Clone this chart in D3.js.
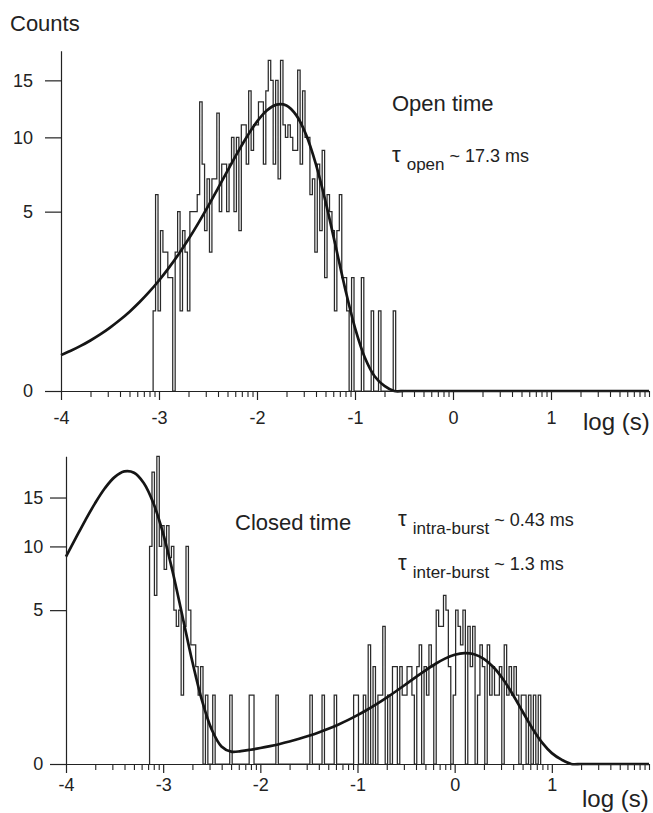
<!DOCTYPE html>
<html><head><meta charset="utf-8">
<script src="https://cdn.jsdelivr.net/npm/d3@7"></script>
<style>
body{margin:0;background:#fff}
svg{display:block}
text{font-family:"Liberation Sans",Arial,Helvetica,sans-serif;fill:#222}
</style>
</head><body>
<svg id="chart" width="653" height="813"></svg>
<script>
// ---------- data ----------
const binWidth = 0.025;                 // bin width in log10(s)
const openBinStart = -3.06;             // left edge of first open-time bin
const openCounts = [
 1,6,1,4,3,3,2,2,0,3, 5,1,4,3,1,5,5,5,6,13,
 8,4,7,3,7,7,12,5,8,8, 5,8,10,5,10,4,11,11,8,14,
 9,11,11,13,13,8,14,17,15,8, 15,7,17,11,10,11,10,9,9,16,
 8,14,10,10,6,7,3,8,4,9, 2,6,5,4,1,4,6,2,2,1,
 0,2,0,0,0,2,0,0,0,1, 0,0,1,0,0,0,0,0,1
];
const closedBinStart = -3.14;           // left edge of first closed-time bin
const closedCounts = [
 10,18,6,20,10,12,8,12,9,10, 5,4,5,1,4,10,5,3,3,2,
 1,2,0,1,0,0,1,0,0,0, 0,0,0,1,0,0,0,0,0,0,
 0,1,1,0,0,0,0,0,0,0, 0,0,1,0,0,0,0,0,0,0,
 0,0,0,0,0,0,1,0,0,0, 0,1,0,0,0,0,1,0,0,0,
 0,0,0,0,1,1,0,0,1,0, 3,0,2,0,1,1,4,0,1,0,
 2,2,0,2,1,1,2,2,1,0, 2,3,0,2,1,3,2,0,5,4,
 4,6,5,2,0,1,5,4,3,5, 0,4,2,4,0,1,3,2,0,3,
 1,2,1,1,2,0,3,1,2,1, 2,1,0,1,1,0,1,0,1,0,
 1
];
// fitted curves, sampled every 0.1 log unit
const fitLogT = [
 -4.0,-3.9,-3.8,-3.7,-3.6,-3.5,-3.4,-3.3,-3.2,-3.1,
 -3.0,-2.9,-2.8,-2.7,-2.6,-2.5,-2.4,-2.3,-2.2,-2.1,
 -2.0,-1.9,-1.8,-1.7,-1.6,-1.5,-1.4,-1.3,-1.2,-1.1,
 -1.0,-0.9,-0.8,-0.7,-0.6,-0.5,-0.4,-0.3,-0.2,-0.1,
  0.0, 0.1, 0.2, 0.3, 0.4, 0.5, 0.6, 0.7, 0.8, 0.9,
  1.0, 1.1, 1.2, 1.3, 1.4, 1.5, 1.6, 1.7, 1.8, 1.9, 2.0
];
const openFit = [
 0.200,0.251,0.316,0.397,0.498,0.625,0.783,0.979,1.224,1.526,
 1.898,2.355,2.909,3.576,4.370,5.298,6.361,7.546,8.813,10.09,
 11.28,12.23,12.75,12.67,11.83,10.23,8.02,5.56,3.31,1.62,
 0.621,0.175,0.034,0.004,0,0,0,0,0,0,
 0,0,0,0,0,0,0,0,0,0,
 0,0,0,0,0,0,0,0,0,0,0
];
const closedFit = [
 9.09,10.77,12.57,14.38,16.06,17.38,18.08,17.92,16.68,14.36,
 11.21,7.73,4.57,2.22,0.85,0.249,0.065,0.032,0.035,0.043,
 0.054,0.068,0.085,0.107,0.134,0.168,0.210,0.262,0.327,0.406,
 0.504,0.622,0.763,0.931,1.126,1.348,1.594,1.854,2.112,2.345,
 2.520,2.600,2.547,2.339,1.978,1.511,1.013,0.577,0.268,0.096,
 0.025,0.004,0,0,0,0,0,0,0,0,0
];
const majorTicks = [-4,-3,-2,-1,0,1];
const yTicks = [0,5,10,15];

// ---------- drawing ----------
const svg = d3.select("#chart");

function minorTickValues(){
  const out=[];
  for(let n=-4;n<=1;n++) for(let k=2;k<=9;k++) out.push(n+Math.log10(k));
  out.push(2);
  return out;
}

function outline(start, counts){
  const pts=[[start,0]];
  counts.forEach((c,i)=>{const a=start+i*binWidth; pts.push([a,c],[a+binWidth,c]);});
  pts.push([start+counts.length*binWidth,0]);
  return pts;
}

function panel(cfg){
  const x = d3.scaleLinear().domain([-4,2]).range([cfg.x0, cfg.x1]);
  const y = d3.scaleSqrt().domain([0,cfg.yMax]).range([cfg.y0, cfg.y1]);
  const g = svg.append("g");

  // histogram outline
  g.append("path")
    .datum(outline(cfg.binStart, cfg.counts))
    .attr("fill","none").attr("stroke","#2a2a2a").attr("stroke-width",1.25)
    .attr("d", d3.line().x(d=>x(d[0])).y(d=>y(d[1])));

  // fitted curve
  g.append("path")
    .datum(fitLogT.map((t,i)=>[t,cfg.fit[i]]))
    .attr("fill","none").attr("stroke","#151515").attr("stroke-width",2.7)
    .attr("stroke-linejoin","round")
    .attr("d", d3.line().x(d=>x(d[0])).y(d=>y(d[1])).curve(d3.curveCatmullRom.alpha(0.5)));

  // y axis
  const ya = g.append("g").attr("transform",`translate(${cfg.x0},0)`)
    .call(d3.axisLeft(y).tickValues(yTicks).tickSize(16).tickSizeOuter(0).tickPadding(cfg.yPad));
  ya.selectAll("text").style("font-size","18px").style("font-family",'"Liberation Sans",Arial,sans-serif').attr("fill","#222");
  ya.selectAll("line,path").attr("stroke","#222").attr("stroke-width",1.2);

  // x axis: major ticks
  const xa = g.append("g").attr("transform",`translate(0,${cfg.y0})`)
    .call(d3.axisBottom(x).tickValues(majorTicks).tickSize(9).tickSizeOuter(0)
      .tickPadding(cfg.xPad).tickFormat(d=>String(d)));
  xa.selectAll("text").style("font-size","18px").style("font-family",'"Liberation Sans",Arial,sans-serif').attr("fill","#222");
  xa.selectAll("line,path").attr("stroke","#222").attr("stroke-width",1.2);

  // x axis: minor ticks
  const xm = g.append("g").attr("transform",`translate(0,${cfg.y0})`)
    .call(d3.axisBottom(x).tickValues(minorTickValues()).tickSize(6).tickSizeOuter(0).tickFormat(""));
  xm.select(".domain").remove();
  xm.selectAll("line").attr("stroke","#222").attr("stroke-width",1.1);

  // axis title
  g.append("text").attr("x",cfg.logX).attr("y",cfg.logY).style("font-size","24px").text("log (s)");
}

panel({x0:61, x1:649, y0:391, y1:50.7, yMax:18, binStart:openBinStart, counts:openCounts,
       fit:openFit, yPad:12, xPad:11, logX:583, logY:430});
panel({x0:66, x1:649, y0:764, y1:456.3, yMax:20, binStart:closedBinStart, counts:closedCounts,
       fit:closedFit, yPad:6.7, xPad:5, logX:582, logY:807});

svg.append("text").attr("x",10).attr("y",31).style("font-size","22px").text("Counts");

// annotations
svg.append("text").attr("x",392).attr("y",111).style("font-size","22px").text("Open time");
function tauLabel(xp, yp, sub, rest){
  const t = svg.append("text").attr("x",xp).attr("y",yp);
  t.append("tspan").style("font-size","22px").text("\u03C4");
  t.append("tspan").attr("dx",6).attr("dy",8).style("font-size","17px").text(sub);
  t.append("tspan").attr("dy",-8).style("font-size","18px").text(" ~ " + rest);
}
tauLabel(392,162,"open","17.3 ms");
svg.append("text").attr("x",235).attr("y",530).style("font-size","22px").text("Closed time");
tauLabel(398,526,"intra-burst","0.43 ms");
tauLabel(398,570,"inter-burst","1.3 ms");
</script>
</body></html>
